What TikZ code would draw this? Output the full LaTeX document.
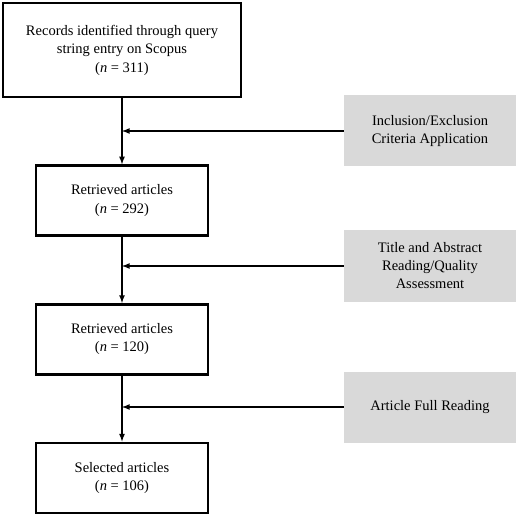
\documentclass[tikz,border=0pt]{standalone}
\usepackage{fontspec}
\setmainfont{Liberation Serif}
\usepackage{xcolor}
\definecolor{critgray}{RGB}{217, 217, 217}
\usetikzlibrary{arrows,positioning,calc}

\begin{document}
\begin{tikzpicture}[
    x=1pt, y=1pt,
    node distance=66pt,
    stage/.style={rectangle, draw, line width=2.6pt, fill=white, minimum width=172pt, minimum height=70pt, align=center, font=\fontsize{14.5}{18.5}\selectfont},
    criteria/.style={rectangle, fill=critgray, minimum width=172pt, minimum height=71pt, align=center, font=\fontsize{14.5}{18}\selectfont},
    arrow/.style={->, >=latex, line width=1.6pt}
]
\useasboundingbox (0,0) rectangle (520,-516);

\node[stage, minimum width=238pt, minimum height=94pt] (records) at (122,-50) {Records identified through query\\string entry on Scopus\\(\textit{n} = 311)};
\node[stage, below=of records] (retrieved1) {Retrieved articles\\(\textit{n} = 292)};
\node[stage, below=of retrieved1] (retrieved2) {Retrieved articles\\(\textit{n} = 120)};
\node[stage, below=of retrieved2] (selected) {Selected articles\\(\textit{n} = 106)};

\node[criteria] (inclusion) at (430,-131) {Inclusion/Exclusion\\Criteria Application};
\node[criteria] (abstract) at (430,-266) {Title and Abstract\\Reading/Quality\\Assessment};
\node[criteria] (fullread) at (430,-407) {Article Full Reading};

\draw[arrow] (records) -- (retrieved1);
\draw[arrow] (retrieved1) -- (retrieved2);
\draw[arrow] (retrieved2) -- (selected);

\draw[arrow] (inclusion.west) -- (inclusion.west -| records.south);
\draw[arrow] (abstract.west) -- (abstract.west -| records.south);
\draw[arrow] (fullread.west) -- (fullread.west -| records.south);

\end{tikzpicture}
\end{document}
